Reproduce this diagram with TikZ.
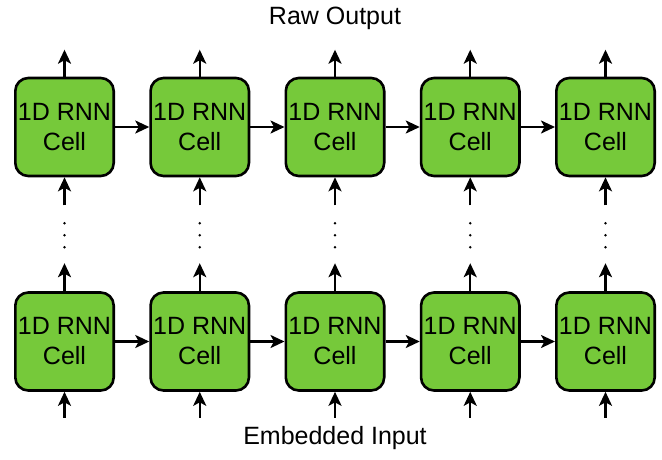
\documentclass[tikz,border=0pt]{standalone}
\usepackage{fontspec}
\setmainfont{Liberation Sans}
\usetikzlibrary{positioning,arrows.meta}
\definecolor{cellgreen}{RGB}{118,201,58}

\begin{document}
\begin{tikzpicture}[
      x=1pt, y=-1pt,
      >={Stealth[length=14pt,width=13pt,inset=3.5pt]},
      cell/.style={draw,fill=cellgreen,line width=2.6pt,rounded corners=13pt,
        minimum width=98.4pt,minimum height=98pt,inner sep=0pt,align=center,
        font=\fontsize{25}{30}\selectfont},
      lbl/.style={font=\fontsize{25}{30}\selectfont,inner sep=0pt},
      link/.style={->,line width=2.4pt},
      node distance=34.25pt,
    ]
    \useasboundingbox (0,0) rectangle (662,459);

    % Top row
    \node[cell] (t1) at (64.5,127) {1D RNN\\Cell};
    \node[cell, right=of t1] (t2) {1D RNN\\Cell};
    \node[cell, right=of t2] (t3) {1D RNN\\Cell};
    \node[cell, right=of t3] (t4) {1D RNN\\Cell};
    \node[cell, right=of t4] (t5) {1D RNN\\Cell};

    % Bottom row
    \node[cell] (b1) at (64.5,341.5) {1D RNN\\Cell};
    \node[cell, right=of b1] (b2) {1D RNN\\Cell};
    \node[cell, right=of b2] (b3) {1D RNN\\Cell};
    \node[cell, right=of b3] (b4) {1D RNN\\Cell};
    \node[cell, right=of b4] (b5) {1D RNN\\Cell};

    % Recurrent links
    \draw[link] (t1) -- (t2);
    \draw[link] (t2) -- (t3);
    \draw[link] (t3) -- (t4);
    \draw[link] (t4) -- (t5);
    \draw[link] (b1) -- (b2);
    \draw[link] (b2) -- (b3);
    \draw[link] (b3) -- (b4);
    \draw[link] (b4) -- (b5);

    % Outputs, inputs and stacked layers
    \foreach \i in {1,...,5} {
      \coordinate (out\i) at ([yshift=27pt]t\i.north);
      \coordinate (in\i) at ([yshift=-26pt]b\i.south);
      \coordinate (up\i) at ([yshift=-28pt]t\i.south);
      \coordinate (lo\i) at ([yshift=28pt]b\i.north);
      \coordinate (dots\i) at ([yshift=56pt]b\i.north);
      \draw[link] (t\i) -- (out\i);
      \draw[link] (in\i) -- (b\i);
      \draw[link] (up\i) -- (t\i);
      \draw[link] (b\i) -- (lo\i);
      \fill ([yshift=12pt]dots\i) circle (1.4pt) (dots\i) circle (1.4pt)
        ([yshift=-12pt]dots\i) circle (1.4pt);
    }

    % Labels
    \node[lbl, anchor=base] (rawout) at (335,24) {Raw Output};
    \node[lbl, anchor=base] (embin) at (335,444) {Embedded Input};
  \end{tikzpicture}
\end{document}
